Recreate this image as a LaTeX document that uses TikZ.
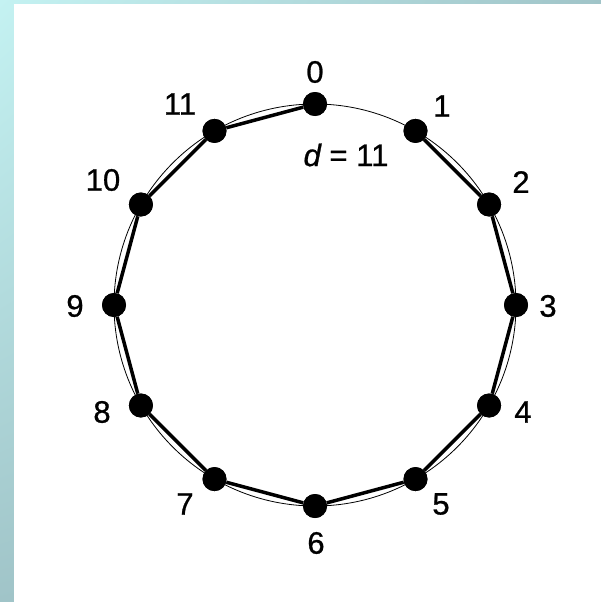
\documentclass[tikz,border=0pt]{standalone}
\usepackage{fontspec}
\setmainfont{Liberation Sans}
\newfontfamily\lblfont[FakeBold=0.8,ItalicFeatures={FakeBold=0.8}]{Liberation Sans}
\usetikzlibrary{shadings,calc}
\definecolor{bgA}{RGB}{196,242,242}
\definecolor{bgB}{RGB}{160,196,200}
\definecolor{bgC}{RGB}{150,186,190}
\begin{document}
\begin{tikzpicture}[x=1pt,y=-1pt,
  vtx/.style={circle,fill=black,inner sep=0pt,minimum size=24pt},
  lbl/.style={font=\lblfont\fontsize{31}{32}\selectfont,inner sep=0pt},
  chord/.style={line width=3.5pt},
  ring/.style={line width=0.8pt}]
\useasboundingbox (0,0) rectangle (601,602);
\shade[upper left=bgA,upper right=bgB,lower left=bgB,lower right=bgC]
  (0,0) rectangle (601,602);
\fill[white] (14,4) rectangle (601,602);
\coordinate (c) at (315,305);
\draw[ring] (c) circle (201);
\foreach \i in {0,...,11}{
  \node[vtx] (v\i) at ($(c)+({sin(30*\i)*201},{-cos(30*\i)*201})$) {};
}
\draw[chord] (v1) -- (v2) -- (v3) -- (v4) -- (v5) -- (v6) -- (v7) -- (v8) -- (v9) -- (v10) -- (v11) -- (v0);
\foreach \i in {0,...,11}{
  \node[vtx] at (v\i) {};
}
\node[lbl] (l0) at (315,72) {0};
\node[lbl] (l1) at (442,106) {1};
\node[lbl] (l2) at (521,182) {2};
\node[lbl] (l3) at (548,306) {3};
\node[lbl] (l4) at (523,412) {4};
\node[lbl] (l5) at (441,504) {5};
\node[lbl] (l6) at (316,543) {6};
\node[lbl] (l7) at (185,504) {7};
\node[lbl] (l8) at (102,412) {8};
\node[lbl] (l9) at (75,306) {9};
\node[lbl] (l10) at (103,180) {10};
\node[lbl] (l11) at (180,104) {11};
\node[lbl] (dl) at (346,155) {\itshape d\upshape\ = 11};
\end{tikzpicture}
\end{document}
